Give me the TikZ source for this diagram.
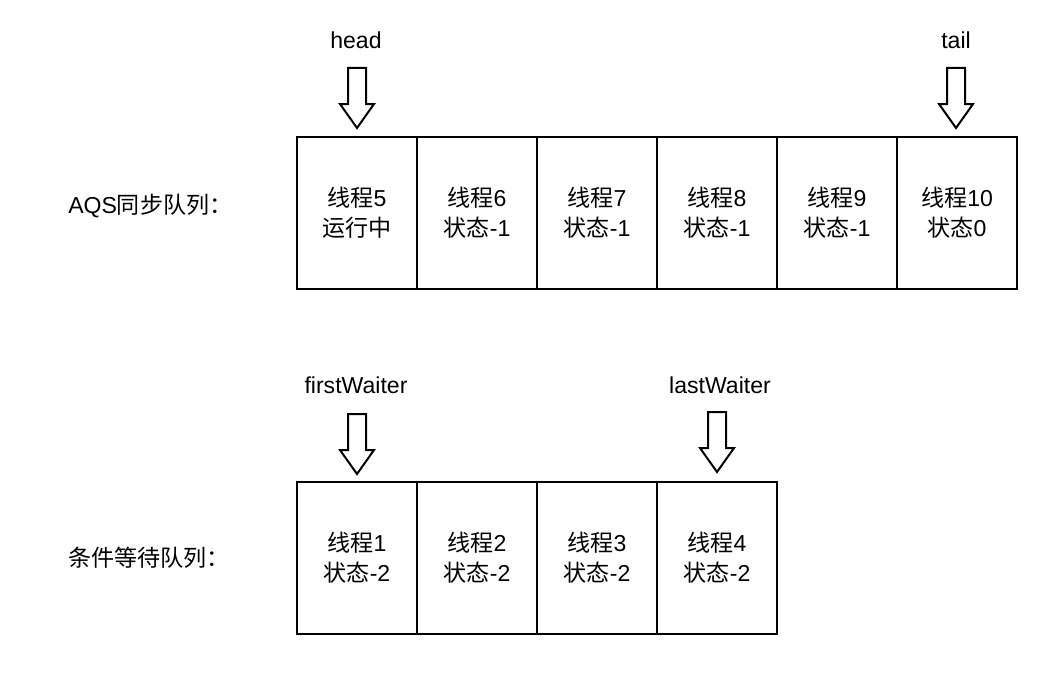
\documentclass[tikz,border=0pt]{standalone}
\usepackage{fontspec}
\setmainfont{Liberation Sans}
\newfontfamily\cjk{Noto Sans CJK SC}
\begin{document}
\begin{tikzpicture}[x=0.75pt,y=-0.75pt,
  every node/.style={font=\fontsize{17.3}{22.5}\selectfont},
  cell/.style={draw,line width=1.5pt,minimum width=90pt,minimum height=114pt,inner sep=0pt,outer sep=0pt,align=center},
  lbl/.style={inner sep=0pt,anchor=center},
  arrowline/.style={draw,line width=1.5pt,line join=miter,fill=white},
  downarrow/.pic={\path[arrowline] (-9,0) -- (9,0) -- (9,36) -- (17,36) -- (0,60) -- (-17,36) -- (-9,36) -- cycle;}]
\useasboundingbox (0,0) rectangle (1062,692);
% top row
\node[cell] (a1) at (357,213) {{\cjk 线程}5\\{\cjk 运行中}};
\node[cell] (a2) at (477,213) {{\cjk 线程}6\\{\cjk 状态}-1};
\node[cell] (a3) at (597,213) {{\cjk 线程}7\\{\cjk 状态}-1};
\node[cell] (a4) at (717,213) {{\cjk 线程}8\\{\cjk 状态}-1};
\node[cell] (a5) at (837,213) {{\cjk 线程}9\\{\cjk 状态}-1};
\node[cell] (a6) at (957,213) {{\cjk 线程}10\\{\cjk 状态}0};
% bottom row
\node[cell] (b1) at (357,558) {{\cjk 线程}1\\{\cjk 状态}-2};
\node[cell] (b2) at (477,558) {{\cjk 线程}2\\{\cjk 状态}-2};
\node[cell] (b3) at (597,558) {{\cjk 线程}3\\{\cjk 状态}-2};
\node[cell] (b4) at (717,558) {{\cjk 线程}4\\{\cjk 状态}-2};
% row labels
\node[lbl,anchor=west] (qa) at (68,206) {AQS{\cjk 同步队列：}};
\node[lbl,anchor=west] (qb) at (68,558) {{\cjk 条件等待队列：}};
% pointer labels
\node[lbl] (head) at (356,40) {head};
\node[lbl] (tail) at (956,40) {tail};
\node[lbl] (fw) at (356,385) {firstWaiter};
\node[lbl] (lw) at (720,385) {lastWaiter};
% arrows
\pic at (357,68) {downarrow};
\pic at (956,68) {downarrow};
\pic at (357,414) {downarrow};
\pic at (717,412) {downarrow};
\end{tikzpicture}
\end{document}
